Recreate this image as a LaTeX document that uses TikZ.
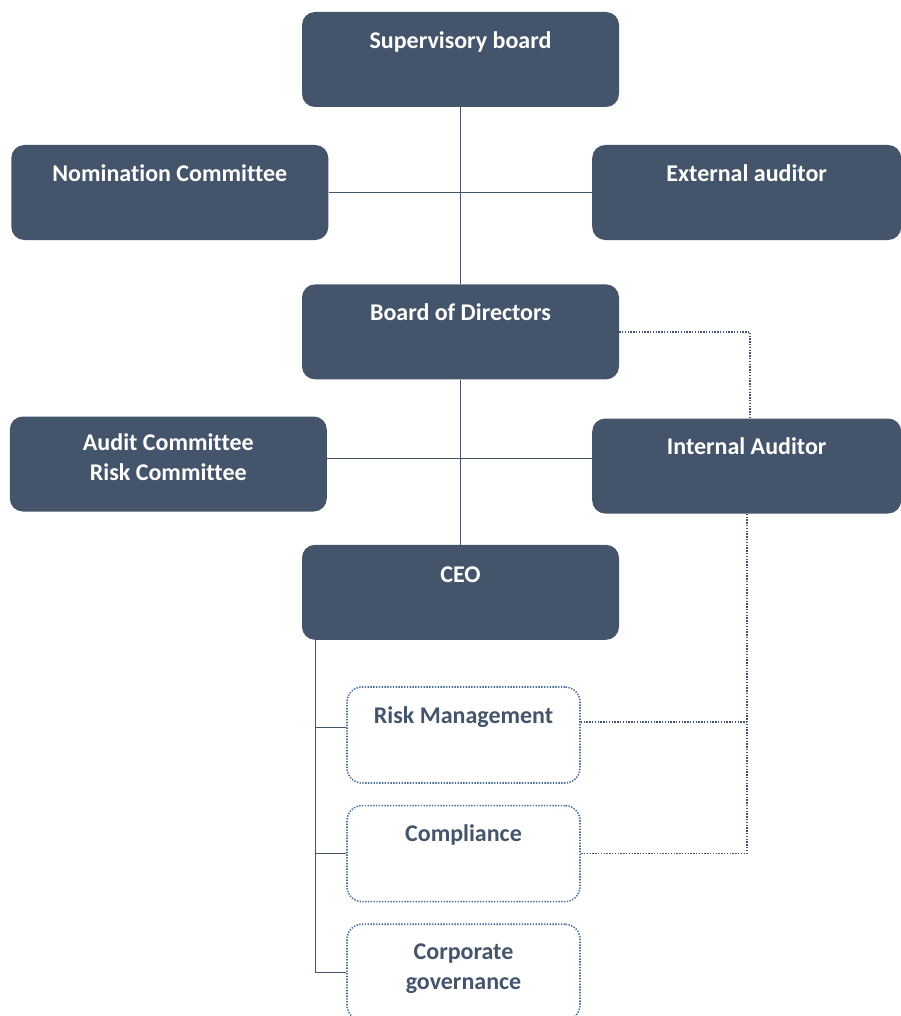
\documentclass[tikz,border=0pt]{standalone}
\usepackage{fontspec}
\setmainfont[Ligatures=NoCommon]{Carlito}
\usetikzlibrary{positioning}

\definecolor{slate}{HTML}{44546A}
\definecolor{dotblue}{HTML}{4A6E9C}

\tikzset{
	board/.style={fill=slate, rounded corners=13pt, minimum width=317pt, minimum height=95pt, inner sep=0pt},
	side/.style={board, minimum width=309pt},
	unit/.style={draw=dotblue, line width=1.6pt, dash pattern=on 1.4pt off 1.4pt, rounded corners=15pt,
		minimum width=233pt, minimum height=96pt, inner sep=0pt},
	title/.style 2 args={label={[anchor=base, yshift=#2, inner sep=0pt, text=white, align=center,
		font=\bfseries\fontsize{24}{30}\selectfont]north:#1}},
	unittitle/.style 2 args={label={[anchor=base, yshift=#2, inner sep=0pt, text=slate, align=center,
		font=\bfseries\fontsize{24}{30}\selectfont]north:#1}},
	link/.style={draw=slate, line width=0.9pt},
	dots/.style={draw=slate, line width=1.6pt, dash pattern=on 1.4pt off 1.4pt}
}

\begin{document}
\begin{tikzpicture}[x=1pt, y=-1pt]
		\useasboundingbox (0,0) rectangle (901,1016);
		
		% Main column
		\node[board, title={Supervisory board}{-36.5pt}] (sup) at (460.5,59.5) {};
		\node[board, title={Board of Directors}{-36.5pt}, below=177pt of sup] (bod) {};
		\node[board, title={CEO}{-37.5pt}, below=165pt of bod] (ceo) {};
		
		% Side boxes
		\coordinate (j1) at (460.5,192.5);
		\coordinate (j2) at (460.5,464);
		\node[board, title={Nomination Committee}{-36.5pt}, left=132pt of j1] (nom) {};
		\node[side, title={External auditor}{-36.5pt}, right=131.5pt of j1] (ext) {};
		\node[board, title={Audit Committee\\Risk Committee}{-64pt}, left=133.5pt of j2] (aud) {};
		\node[side, title={Internal Auditor}{-36.5pt}, right=131.5pt of j2, yshift=-2pt] (ia) {};
		
		% Units under the CEO
		\node[unit, unittitle={Risk Management}{-37pt}] (rm) at (463.5,735) {};
		\node[unit, unittitle={Compliance}{-36.5pt}, below=21pt of rm] (comp) {};
		\node[unit, unittitle={Corporate\\governance}{-66.5pt}, below=21pt of comp] (cg) {};
		
		% Solid lines
		\coordinate (hl) at (460.5,458);
		\coordinate (bus) at (315,0);
		\path (rm.west) ++(0,-8) coordinate (rmt);
		\draw[link] (sup) -- (bod);
		\draw[link] (bod) -- (ceo);
		\draw[link] (nom) -- (ext);
		\draw[link] (aud.east |- hl) -- (ia.west |- hl);
		\draw[link] (ceo.south -| bus) -- (bus |- cg.west);
		\draw[link] (bus |- rmt) -- (rmt);
		\draw[link] (bus |- comp.west) -- (comp.west);
		\draw[link] (bus |- cg.west) -- (cg.west);
		
		% Dotted lines
		\coordinate (dv) at (750,0);
		\path (rm.east) ++(0,-13) coordinate (rmd);
		\draw[dots] (bod.east) -| (dv |- ia.north);
		\draw[dots] (ia.south) |- (comp.east);
		\draw[dots] (rmd) -- (ia.south |- rmd);
\end{tikzpicture}
\end{document}
